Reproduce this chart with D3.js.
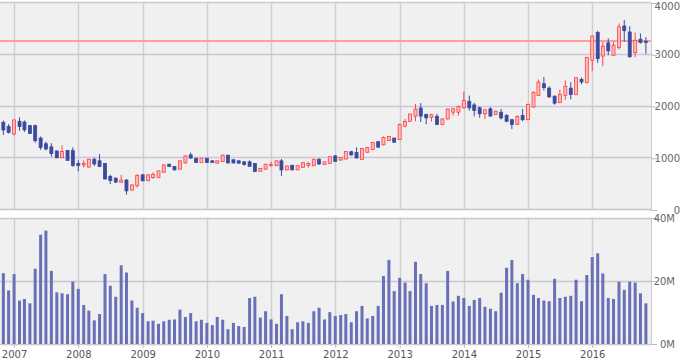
<!DOCTYPE html>
<html><head><meta charset="utf-8">
<script src="https://cdn.jsdelivr.net/npm/d3@7"></script>
<style>
html,body{margin:0;padding:0;background:#fff;}
svg{display:block;}
text{font-family:"DejaVu Sans",Verdana,sans-serif;}
</style></head>
<body>
<svg id="chart" width="680" height="360"></svg>
<script>
const startMonth = "2006-11";
const yearTicks = ["2007","2008","2009","2010","2011","2012","2013","2014","2015","2016"];
const priceTicks = [0,1000,2000,3000,4000];
const volumeTicks = [0,20,40];
const refLine = 3265;

const open = [1695,1612,1470,1715,1700,1630,1630,1390,1280,1220,
1140,1010,1150,1146,900,870,830,980,950,900,
650,615,535,580,385,470,680,565,630,630,
730,885,840,790,910,1065,1000,920,1000,950,
905,935,1060,970,950,930,930,900,750,790,
860,855,950,775,865,775,825,860,855,980,
880,900,1045,965,985,1125,1110,975,1115,1170,
1320,1260,1345,1390,1360,1620,1715,1815,1970,1845,
1790,1810,1655,1760,1890,1890,1975,2100,2030,1975,
1860,1955,1845,1890,1825,1745,1655,1825,1745,1990,
2215,2440,2355,2200,2075,2215,2355,2230,2525,2460,
2895,3430,2975,3230,2990,3140,3555,3440,3040,3300,
3260];
const close = [1547,1500,1740,1612,1550,1480,1340,1210,1180,1090,
1010,1130,960,860,860,900,980,890,840,600,
570,540,575,370,485,670,565,680,690,757,
870,840,775,950,1045,1005,920,1000,920,920,
950,1060,910,910,905,880,845,745,805,885,
880,950,775,850,775,855,915,900,980,890,
930,1030,940,1015,1130,1065,1005,1190,1210,1305,
1215,1400,1420,1310,1650,1710,1855,1950,1815,1780,
1840,1655,1760,1950,1955,2000,2115,1975,1925,1860,
1935,1815,1910,1780,1715,1655,1805,1745,2040,2275,
2470,2365,2185,2065,2230,2390,2235,2555,2475,2945,
3360,2925,3165,3075,3185,3540,3465,2960,3280,3240,
3240];
const high = [1728,1660,1745,1790,1730,1640,1650,1420,1320,1290,
1150,1250,1160,1210,960,960,990,1010,1080,910,
680,630,680,595,490,690,690,690,725,760,
885,895,850,960,1060,1110,1010,1010,1010,960,
955,1070,1065,980,960,950,960,905,810,890,
930,955,985,855,870,860,920,930,985,1000,
935,1035,1060,1020,1135,1145,1210,1195,1215,1310,
1330,1420,1430,1395,1670,1760,1860,2050,2065,1860,
1860,1860,1770,1960,1975,2020,2290,2210,2070,2000,
1955,1985,1920,1955,1855,1760,1825,1955,2060,2290,
2520,2570,2390,2210,2325,2505,2470,2565,2560,2960,
3370,3465,3250,3315,3250,3605,3670,3550,3430,3410,
3340];
const low = [1450,1480,1440,1530,1510,1470,1300,1160,1150,1030,
1000,1000,950,835,750,820,820,850,830,590,
500,520,530,300,380,430,555,560,600,620,
725,830,765,785,900,990,915,915,910,910,
900,930,900,900,895,855,835,740,740,780,
835,850,660,770,770,770,815,820,850,870,
875,895,935,960,980,1050,1000,965,1110,1160,
1205,1250,1335,1300,1355,1600,1710,1715,1700,1660,
1710,1640,1640,1750,1825,1825,1960,1920,1810,1780,
1760,1810,1840,1750,1695,1565,1640,1715,1740,1980,
2200,2310,2170,2035,2065,2130,2135,2220,2430,2450,
2685,2845,2780,2990,2985,3105,3250,2945,2955,3215,
3020];
const volume = [22.5,17.0,22.2,13.8,14.3,12.9,23.9,34.7,36.0,23.2,
16.4,16.1,15.8,19.8,17.5,12.4,10.6,7.5,9.5,22.2,
18.5,15.0,25.0,22.7,13.8,11.5,9.8,7.2,7.4,6.4,
7.2,7.7,7.8,10.9,8.6,9.8,7.2,7.7,6.7,6.0,
8.6,7.7,4.7,6.7,5.7,5.4,14.6,15.0,8.4,10.4,
7.8,6.4,15.8,8.9,4.7,6.9,7.2,6.7,10.4,11.5,
7.8,10.1,8.9,9.2,9.5,6.9,10.4,12.1,8.1,8.9,
12.1,21.6,26.7,16.8,21.0,19.5,16.8,26.1,22.2,19.3,
12.1,12.4,12.4,23.2,13.5,15.3,14.6,12.1,14.0,14.6,
11.8,11.2,10.4,16.3,24.2,26.7,19.3,22.2,20.4,15.6,
14.6,13.8,13.6,20.7,14.6,15.0,15.3,20.4,13.6,21.9,
27.6,28.8,22.4,14.6,14.3,19.8,17.2,19.8,19.5,16.1,
12.9];

const parseM = d3.timeParse("%Y-%m");
const first = parseM(startMonth);
const months = open.map((_, i) => d3.timeMonth.offset(first, i));
const data = months.map((m, i) => ({date: m, o: open[i], h: high[i], l: low[i], c: close[i], v: volume[i]}));

const svg = d3.select("#chart");
const plotL = 0, plotR = 651;
const top1 = 3, bot1 = 210, top2 = 218, bot2 = 344;

const x = d3.scaleTime()
  .domain([new Date(2006, 9, 13), new Date(2016, 10, 30)])
  .range([plotL, plotR]);
const yP = d3.scaleLinear().domain([0, 4000]).range([bot1, top1]);
const yV = d3.scaleLinear().domain([0, 40]).range([bot2, top2]);

const years = yearTicks.map(y => d3.timeParse("%Y")(y));
const px = v => Math.round(v) + 0.5;

// panel backgrounds
[[top1, bot1], [top2, bot2]].forEach(([t, b]) => {
  svg.append("rect").attr("x", plotL).attr("y", t).attr("width", plotR - plotL).attr("height", b - t)
    .attr("fill", "#f0f0f1");
});

// vertical grid
[[top1, bot1], [top2, bot2]].forEach(([t, b]) => {
  svg.append("g").selectAll("line").data(years).join("line")
    .attr("x1", d => px(x(d))).attr("x2", d => px(x(d)))
    .attr("y1", t).attr("y2", b)
    .attr("stroke", "#d0d0d4").attr("stroke-width", 1.5);
});

// price axis
const axP = svg.append("g").attr("transform", `translate(${plotR},0)`)
  .call(d3.axisRight(yP).tickValues(priceTicks).tickSize(6).tickFormat(d3.format("d")));
axP.select(".domain").attr("stroke", "#ccc");
axP.selectAll(".tick line").attr("stroke", "#bbb");
axP.selectAll(".tick text").attr("text-anchor", "end").attr("x", 29).attr("fill", "#666").attr("font-size", 10)
  .attr("dy", d => d === 4000 ? "0.6em" : "0.32em");
svg.append("g").selectAll("line").data(priceTicks).join("line")
  .attr("x1", plotL).attr("x2", plotR)
  .attr("y1", d => px(yP(d)) - 1).attr("y2", d => px(yP(d)) - 1)
  .attr("stroke", d => d === 0 ? "#c4c4c8" : "#c8c8d6").attr("stroke-width", 1.5);

// volume axis
const axV = svg.append("g").attr("transform", `translate(${plotR},0)`)
  .call(d3.axisRight(yV).tickValues(volumeTicks).tickSize(6).tickFormat(d => d + "M"));
axV.select(".domain").attr("stroke", "#ccc");
axV.selectAll(".tick line").attr("stroke", "#bbb");
axV.selectAll(".tick text").attr("text-anchor", "end").attr("x", 24).attr("fill", "#666").attr("font-size", 10);
svg.append("g").selectAll("line").data(volumeTicks).join("line")
  .attr("x1", plotL).attr("x2", plotR)
  .attr("y1", d => px(yV(d))).attr("y2", d => px(yV(d)))
  .attr("stroke", "#c8c8d0").attr("stroke-width", 1.5);

// reference line
svg.append("line").attr("x1", plotL).attr("x2", plotR)
  .attr("y1", yP(refLine)).attr("y2", yP(refLine))
  .attr("stroke", "#ff9c9c").attr("stroke-width", 2);

// x axis
const axX = svg.append("g").attr("transform", `translate(0,${bot2})`)
  .call(d3.axisBottom(x).tickValues(years).tickSize(4).tickFormat(d3.timeFormat("%Y")));
axX.select(".domain").remove();
axX.selectAll(".tick line").attr("stroke", "#bbb");
axX.selectAll(".tick text").attr("fill", "#555").attr("font-size", 10);

// candles
const up = "#ff4040", upFill = "#ffbcbc", dn = "#3a4a9e";
const cg = svg.append("g");
cg.selectAll("line").data(data).join("line")
  .attr("x1", d => x(d.date)).attr("x2", d => x(d.date))
  .attr("y1", d => yP(d.h)).attr("y2", d => yP(d.l))
  .attr("stroke", d => d.c >= d.o ? up : dn).attr("stroke-width", 1);
cg.selectAll("rect").data(data).join("rect")
  .attr("x", d => x(d.date) - 1.5).attr("width", 3)
  .attr("y", d => yP(Math.max(d.o, d.c)))
  .attr("height", d => Math.max(1, Math.abs(yP(d.o) - yP(d.c))))
  .attr("fill", d => d.c >= d.o ? upFill : dn)
  .attr("stroke", d => d.c >= d.o ? up : dn).attr("stroke-width", 0.8);

// volume bars
svg.append("g").selectAll("rect").data(data).join("rect")
  .attr("x", d => x(d.date) - 1.5).attr("width", 3)
  .attr("y", d => yV(d.v)).attr("height", d => yV(0) - yV(d.v))
  .attr("fill", "#6870b8");
</script>
</body></html>
